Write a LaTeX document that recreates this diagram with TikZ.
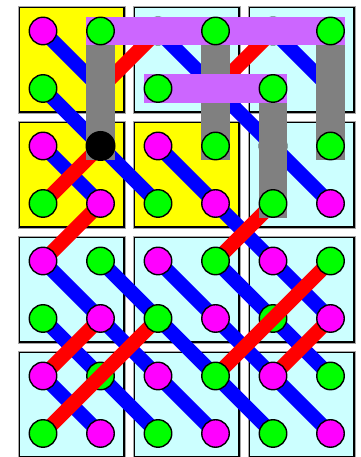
\documentclass[tikz,border=0pt]{standalone}
\usepackage{xcolor}
\definecolor{cellyellow}{RGB}{255,255,0}
\definecolor{cellcyan}{RGB}{204,255,255}
\definecolor{sitepink}{RGB}{255,0,255}
\definecolor{sitegreen}{RGB}{0,255,0}
\definecolor{dimerpurple}{RGB}{204,102,255}
\definecolor{dimergray}{RGB}{128,128,128}

\pgfdeclarelayer{cells}
\pgfdeclarelayer{bonds}
\pgfdeclarelayer{under}
\pgfdeclarelayer{flips}
\pgfdeclarelayer{sites}
\pgfdeclarelayer{bars}
\pgfdeclarelayer{top}
\pgfsetlayers{cells,bonds,under,flips,sites,main,bars,top}

\begin{document}
\begin{tikzpicture}[
    x=57.5pt, y=-57.5pt,
    cell/.style={draw=black, line width=1.4pt, preaction={draw=black!35, line width=3.2pt}},
    site/.style={circle, draw=black, line width=1.4pt, minimum size=27.5pt, inner sep=0pt},
    psite/.style={site, fill=sitepink},
    gsite/.style={site, fill=sitegreen},
    bsite/.style={circle, fill=black, minimum size=30pt, inner sep=0pt},
    bond/.style={blue, line width=14.4pt},
    flip/.style={red, line width=14.4pt},
    vbar/.style={dimergray, line width=28.75pt, line cap=rect},
    hbar/.style={dimerpurple, line width=28.75pt, line cap=rect}
]
\useasboundingbox (-0.748,-0.539) rectangle (5.530,7.409);
\clip (-0.748,-0.539) rectangle (5.530,7.409);

% cells, 3 x 4
\begin{pgfonlayer}{cells}
\foreach \c/\r/\col in {0/0/cellyellow, 1/0/cellcyan, 2/0/cellcyan,
                        0/1/cellyellow, 1/1/cellyellow, 2/1/cellcyan,
                        0/2/cellcyan, 1/2/cellcyan, 2/2/cellcyan,
                        0/3/cellcyan, 1/3/cellcyan, 2/3/cellcyan}
    \draw[cell, fill=\col] (2*\c-0.41,2*\r-0.41) rectangle (2*\c+1.41,2*\r+1.41);
\end{pgfonlayer}

% which sites go under the red lines, which on top of the bars
\foreach \i/\j in {1/6, 4/5}
    {\expandafter\gdef\csname lay-\i-\j\endcsname{under}}
\foreach \i/\j in {1/0, 3/0, 5/0, 2/1, 4/1, 1/2, 3/2, 5/2, 4/3}
    {\expandafter\gdef\csname lay-\i-\j\endcsname{top}}

% sites
\foreach \i in {0,...,5}
  \foreach \j in {0,...,7} {
    \pgfmathtruncatemacro{\parity}{mod(\i+\j,2)}
    \ifnum\parity=0 \def\sty{psite}\else\def\sty{gsite}\fi
    \ifnum\i\j=12 \def\sty{bsite}\fi
    \ifcsname lay-\i-\j\endcsname
      \edef\lay{\csname lay-\i-\j\endcsname}
    \else
      \def\lay{sites}
    \fi
    \begin{pgfonlayer}{\lay}
      \node[\sty] (n-\i-\j) at (\i,\j) {};
    \end{pgfonlayer}
  }

% blue bonds
\begin{pgfonlayer}{bonds}
\draw[bond] (n-0-0.center) -- (n-1-1.center);
\draw[bond] (n-0-1.center) -- (n-1-2.center) -- (n-2-3.center);
\draw[bond] (n-0-2.center) -- (n-1-3.center);
\draw[bond] (n-2-0.center) -- (n-3-1.center) -- (n-4-2.center) -- (n-5-3.center);
\draw[bond] (n-2-2.center) -- (n-3-3.center) -- (n-4-4.center) -- (n-5-5.center);
\draw[bond] (n-4-0.center) -- (n-5-1.center);
\draw[bond] (n-0-4.center) -- (n-1-5.center) -- (n-2-6.center) -- (n-3-7.center);
\draw[bond] (n-1-4.center) -- (n-2-5.center) -- (n-3-6.center) -- (n-4-7.center);
\draw[bond] (n-2-4.center) -- (n-3-5.center) -- (n-4-6.center) -- (n-5-7.center);
\draw[bond] (n-3-4.center) -- (n-4-5.center) -- (n-5-6.center);
\draw[bond] (n-0-5.center) -- (n-1-6.center) -- (n-2-7.center);
\draw[bond] (n-0-6.center) -- (n-1-7.center);
\end{pgfonlayer}

% red flips
\begin{pgfonlayer}{flips}
\draw[flip] (n-1-1.center) -- (n-2-0.center);
\draw[flip] (n-0-3.center) -- (n-1-2.center);
\draw[flip] (n-1-3.center) -- (n-0-4.center);
\draw[flip] (n-3-1.center) -- (n-4-0.center);
\draw[flip] (n-4-3.center) -- (n-3-4.center);
\draw[flip] (n-1-5.center) -- (n-0-6.center);
\draw[flip] (n-2-5.center) -- (n-0-7.center);
\draw[flip] (n-5-4.center) -- (n-3-6.center);
\draw[flip] (n-5-5.center) -- (n-4-6.center);
\end{pgfonlayer}

% bars
\begin{pgfonlayer}{bars}
\draw[vbar] (n-1-0.center) -- (n-1-2.center);
\draw[vbar] (n-3-0.center) -- (n-3-2.center);
\draw[vbar] (n-5-0.center) -- (n-5-2.center);
\draw[vbar] (n-4-1.center) -- (n-4-3.center);
\draw[hbar] (n-1-0.center) -- (n-5-0.center);
\draw[hbar] (n-2-1.center) -- (n-4-1.center);
\end{pgfonlayer}

\end{tikzpicture}
\end{document}
